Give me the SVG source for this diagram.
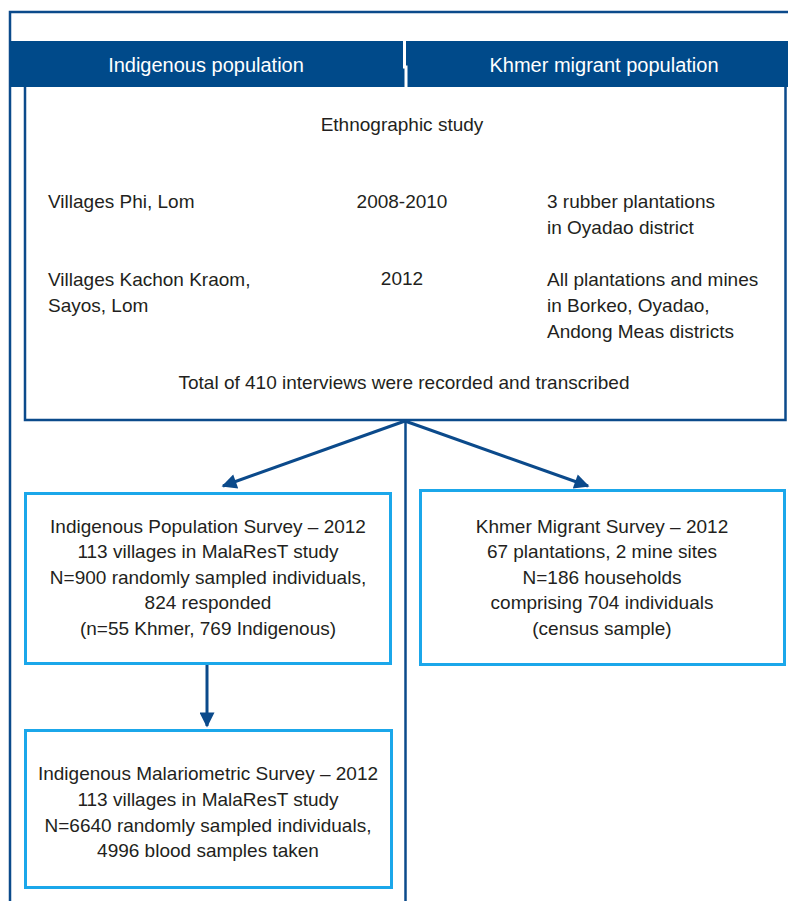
<svg xmlns="http://www.w3.org/2000/svg" width="788" height="901" viewBox="0 0 788 901">
<defs>
<style>
.t{font-family:"Liberation Sans",Arial,sans-serif;font-size:19px;fill:#231f20}
.c{text-anchor:middle}
.h{font-family:"Liberation Sans",Arial,sans-serif;font-size:20px;fill:#fff;text-anchor:middle}
.frame{fill:none;stroke:#0b4a8b;stroke-width:2.5}
.lb{fill:#fff;stroke:#1ba7ea;stroke-width:3}
.conn{stroke:#0b4a8b;stroke-width:3;fill:none}
</style>
<marker id="ah" viewBox="0 0 10 10" refX="9" refY="5" markerWidth="5.5" markerHeight="5" orient="auto" markerUnits="strokeWidth">
<path d="M0,0 L10,5 L0,10 z" fill="#0b4a8b"/>
</marker>
</defs>
<rect width="788" height="901" fill="#fff"/>
<g id="frame">
<path class="frame" d="M10,901 V12 H788"/>
<line class="frame" x1="405.5" y1="420" x2="405.5" y2="901"/>
</g>
<g id="header">
<rect x="10" y="41" width="778" height="46" fill="#004a8a"/>
<path d="M404.5,41 V67 H406 V87" stroke="#fff" stroke-width="3" fill="none"/>
<text class="h" x="206" y="72">Indigenous population</text>
<text class="h" x="604" y="72">Khmer migrant population</text>
</g>
<g id="ethno">
<path class="frame" d="M25,87 V420 H785.5 V87"/>
<text class="t c" x="402" y="131">Ethnographic study</text>
<text class="t" x="48" y="208">Villages Phi, Lom</text>
<text class="t c" x="402" y="208">2008-2010</text>
<text class="t" x="547" y="208">3 rubber plantations</text>
<text class="t" x="547" y="234">in Oyadao district</text>
<text class="t" x="48" y="286">Villages Kachon Kraom,</text>
<text class="t" x="48" y="312">Sayos, Lom</text>
<text class="t c" x="402" y="285">2012</text>
<text class="t" x="547" y="286">All plantations and mines</text>
<text class="t" x="547" y="312">in Borkeo, Oyadao,</text>
<text class="t" x="547" y="338">Andong Meas districts</text>
<text class="t c" x="404" y="389">Total of 410 interviews were recorded and transcribed</text>
</g>
<g id="connectors">
<line class="conn" x1="405" y1="421" x2="223" y2="486" marker-end="url(#ah)"/>
<line class="conn" x1="405" y1="421" x2="588" y2="486" marker-end="url(#ah)"/>
<line class="conn" x1="207" y1="665" x2="207" y2="726" marker-end="url(#ah)"/>
</g>
<g id="ips">
<rect class="lb" x="25.5" y="493.5" width="365" height="170"/>
<text class="t c" x="208" y="533">Indigenous Population Survey – 2012</text>
<text class="t c" x="208" y="558">113 villages in MalaResT study</text>
<text class="t c" x="208" y="584">N=900 randomly sampled individuals,</text>
<text class="t c" x="208" y="609">824 responded</text>
<text class="t c" x="208" y="635">(n=55 Khmer, 769 Indigenous)</text>
</g>
<g id="kms">
<rect class="lb" x="420.5" y="490.5" width="364" height="174"/>
<text class="t c" x="602" y="533">Khmer Migrant Survey – 2012</text>
<text class="t c" x="602" y="558">67 plantations, 2 mine sites</text>
<text class="t c" x="602" y="584">N=186 households</text>
<text class="t c" x="602" y="609">comprising 704 individuals</text>
<text class="t c" x="602" y="635">(census sample)</text>
</g>
<g id="ims">
<rect class="lb" x="25.5" y="730.5" width="366" height="157"/>
<text class="t c" x="208" y="780">Indigenous Malariometric Survey – 2012</text>
<text class="t c" x="208" y="806">113 villages in MalaResT study</text>
<text class="t c" x="208" y="832">N=6640 randomly sampled individuals,</text>
<text class="t c" x="208" y="857">4996 blood samples taken</text>
</g>
</svg>
